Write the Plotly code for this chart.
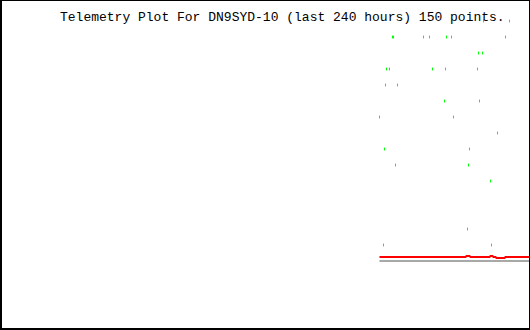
import plotly.graph_objects as go

# Sample index (0..149 within the last 240 hours) and telemetry level
green_idx = [104, 130,
             13, 14, 44, 50, 67, 72, 126,
             99, 103,
             7, 10, 53, 66, 98,
             6, 18,
             65, 100,
             0, 74,
             118,
             5, 90,
             16, 89,
             111,
             88,
             4, 112]
green_val = [15, 15,
             14, 14, 14, 14, 14, 14, 14,
             13, 13,
             12, 12, 12, 12, 12,
             11, 11,
             10, 10,
             9, 9,
             8,
             7, 7,
             6, 6,
             5,
             2,
             1, 1]

red_idx = [0, 86, 87, 90, 91, 110, 111, 113, 114, 116, 117, 125, 126, 150]
red_val = [0.25, 0.25, 0.3125, 0.3125, 0.25, 0.25, 0.3125, 0.3125, 0.25, 0.25,
           0.1875, 0.1875, 0.25, 0.25]

gray_idx = [0, 150]
gray_val = [0.0, 0.0]

title_text = "Telemetry Plot For DN9SYD-10 (last 240 hours) 150 points."

fig = go.Figure()
fig.add_trace(go.Scatter(x=gray_idx, y=gray_val, mode="lines",
                         line=dict(color="#a8a8a8", width=2), hoverinfo="skip"))
fig.add_trace(go.Scatter(x=red_idx, y=red_val, mode="lines",
                         line=dict(color="#ff0000", width=2), hoverinfo="skip"))
fig.add_trace(go.Scatter(x=green_idx, y=green_val, mode="markers",
                         marker=dict(symbol="line-ns", size=2,
                                     line=dict(color="#00ff00", width=1)),
                         hoverinfo="skip"))

W, H = 530, 330
fig.update_layout(
    width=W, height=H, autosize=False,
    margin=dict(l=0, r=0, t=0, b=0, pad=0),
    paper_bgcolor="white", plot_bgcolor="white",
    showlegend=False,
    xaxis=dict(range=[-379.5, 150.5], visible=False, fixedrange=True),
    yaxis=dict(range=[-4.3125, 16.3125], visible=False, fixedrange=True),
    annotations=[dict(text=title_text, xref="paper", yref="paper",
                      x=58 / W, y=1 - 17 / H, xanchor="left", yanchor="middle",
                      showarrow=False,
                      font=dict(family="Liberation Mono", size=13, color="black"))],
    shapes=[
        dict(type="line", xref="paper", yref="paper", x0=1 / W, x1=1 / W, y0=0, y1=1,
             line=dict(color="black", width=2)),
        dict(type="line", xref="paper", yref="paper", x0=529.5 / W, x1=529.5 / W, y0=0, y1=1,
             line=dict(color="black", width=1)),
        dict(type="line", xref="paper", yref="paper", x0=0, x1=1, y0=1 - 0.5 / H, y1=1 - 0.5 / H,
             line=dict(color="black", width=1)),
        dict(type="line", xref="paper", yref="paper", x0=0, x1=1, y0=1 / H, y1=1 / H,
             line=dict(color="black", width=2)),
    ],
)

fig.write_html("out.html", config={"displayModeBar": False})
